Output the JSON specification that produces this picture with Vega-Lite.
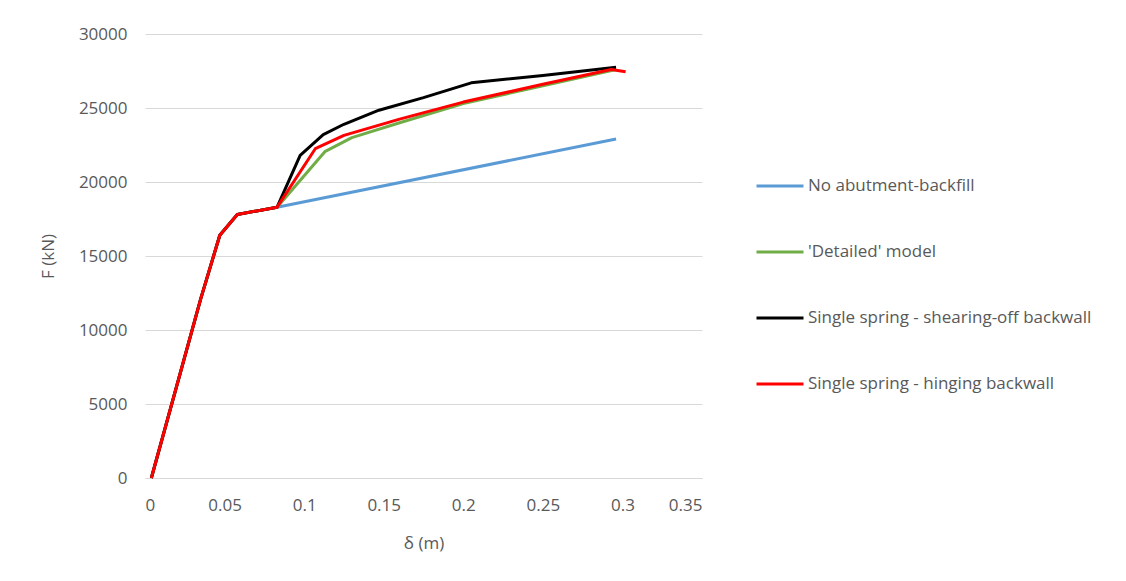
{
  "$schema": "https://vega.github.io/schema/vega-lite/v6.json",
  "autosize": "none",
  "width": 557,
  "height": 444,
  "padding": {"left": 145, "top": 34, "right": 424, "bottom": 103},
  "background": "white",
  "config": {
    "font": "Open Sans",
    "view": {"stroke": null},
    "axis": {"labelColor": "#595959", "titleColor": "#595959", "labelFontSize": 17, "titleFontSize": 17, "titleFontWeight": "normal", "gridColor": "#d9d9d9", "ticks": false, "domain": false}
  },
  "data": {"values": [
    {"s": "No abutment-backfill", "d": 0.004, "f": 0},
    {"s": "No abutment-backfill", "d": 0.035, "f": 12100},
    {"s": "No abutment-backfill", "d": 0.047, "f": 16400},
    {"s": "No abutment-backfill", "d": 0.058, "f": 17800},
    {"s": "No abutment-backfill", "d": 0.083, "f": 18300},
    {"s": "No abutment-backfill", "d": 0.296, "f": 22900},
    {"s": "'Detailed' model", "d": 0.004, "f": 0},
    {"s": "'Detailed' model", "d": 0.035, "f": 12100},
    {"s": "'Detailed' model", "d": 0.047, "f": 16400},
    {"s": "'Detailed' model", "d": 0.058, "f": 17800},
    {"s": "'Detailed' model", "d": 0.083, "f": 18300},
    {"s": "'Detailed' model", "d": 0.113, "f": 22050},
    {"s": "'Detailed' model", "d": 0.13, "f": 23000},
    {"s": "'Detailed' model", "d": 0.16, "f": 24000},
    {"s": "'Detailed' model", "d": 0.2, "f": 25300},
    {"s": "'Detailed' model", "d": 0.25, "f": 26500},
    {"s": "'Detailed' model", "d": 0.296, "f": 27600},
    {"s": "Single spring - shearing-off backwall", "d": 0.004, "f": 0},
    {"s": "Single spring - shearing-off backwall", "d": 0.035, "f": 12100},
    {"s": "Single spring - shearing-off backwall", "d": 0.047, "f": 16400},
    {"s": "Single spring - shearing-off backwall", "d": 0.058, "f": 17800},
    {"s": "Single spring - shearing-off backwall", "d": 0.083, "f": 18300},
    {"s": "Single spring - shearing-off backwall", "d": 0.0975, "f": 21800},
    {"s": "Single spring - shearing-off backwall", "d": 0.112, "f": 23200},
    {"s": "Single spring - shearing-off backwall", "d": 0.125, "f": 23900},
    {"s": "Single spring - shearing-off backwall", "d": 0.147, "f": 24850},
    {"s": "Single spring - shearing-off backwall", "d": 0.175, "f": 25700},
    {"s": "Single spring - shearing-off backwall", "d": 0.205, "f": 26700},
    {"s": "Single spring - shearing-off backwall", "d": 0.25, "f": 27200},
    {"s": "Single spring - shearing-off backwall", "d": 0.296, "f": 27750},
    {"s": "Single spring - hinging backwall", "d": 0.004, "f": 0},
    {"s": "Single spring - hinging backwall", "d": 0.035, "f": 12100},
    {"s": "Single spring - hinging backwall", "d": 0.047, "f": 16400},
    {"s": "Single spring - hinging backwall", "d": 0.058, "f": 17800},
    {"s": "Single spring - hinging backwall", "d": 0.083, "f": 18300},
    {"s": "Single spring - hinging backwall", "d": 0.107, "f": 22250},
    {"s": "Single spring - hinging backwall", "d": 0.125, "f": 23150},
    {"s": "Single spring - hinging backwall", "d": 0.16, "f": 24250},
    {"s": "Single spring - hinging backwall", "d": 0.2, "f": 25400},
    {"s": "Single spring - hinging backwall", "d": 0.25, "f": 26600},
    {"s": "Single spring - hinging backwall", "d": 0.293, "f": 27600},
    {"s": "Single spring - hinging backwall", "d": 0.302, "f": 27450}
  ]},
  "mark": {"type": "line", "strokeWidth": 3, "strokeJoin": "round"},
  "encoding": {
    "x": {"field": "d", "type": "quantitative", "scale": {"domain": [0, 0.35], "nice": false},
      "axis": {"title": "δ (m)", "tickCount": 7, "format": "~g", "grid": false, "domain": true, "domainColor": "#d9d9d9", "labelPadding": 19, "titlePadding": 22}},
    "y": {"field": "f", "type": "quantitative", "scale": {"domain": [0, 30000], "nice": false},
      "axis": {"title": "F (kN)", "tickCount": 6, "format": "d", "labelPadding": 18, "titlePadding": 21}},
    "color": {"field": "s", "type": "nominal",
      "scale": {"domain": ["No abutment-backfill", "'Detailed' model", "Single spring - shearing-off backwall", "Single spring - hinging backwall"], "range": ["#5b9bd5", "#70ad47", "#000000", "#ff0000"]},
      "legend": {"title": null, "orient": "none", "legendX": 610, "legendY": 127, "symbolType": "stroke", "symbolStrokeWidth": 3, "symbolSize": 2209, "labelFontSize": 17, "labelColor": "#595959", "labelLimit": 400, "rowPadding": 33, "labelOffset": 3}
    }
  }
}
